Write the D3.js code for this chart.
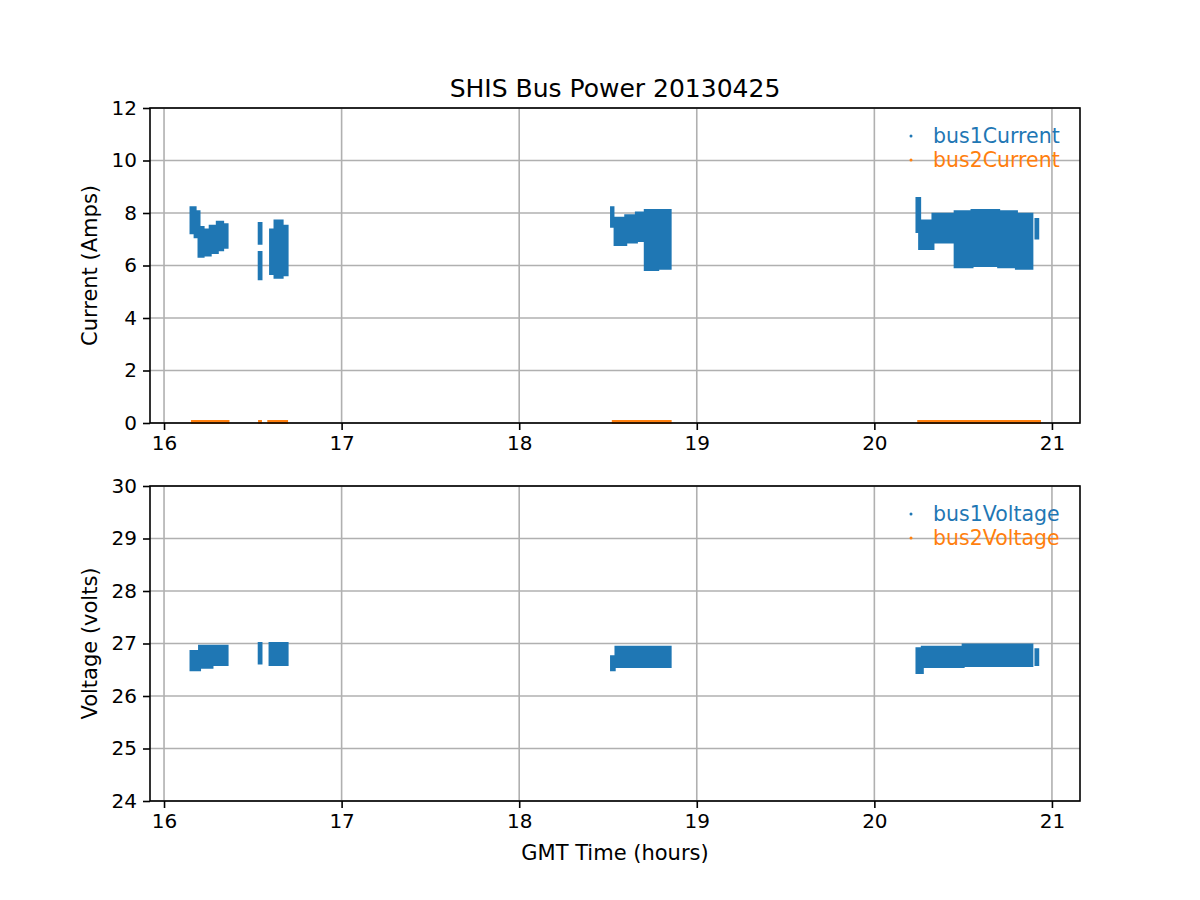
<!DOCTYPE html>
<html>
<head>
<meta charset="utf-8">
<script src="https://cdn.jsdelivr.net/npm/d3@7"></script>
<style>
  html, body { margin: 0; padding: 0; background: #fff; }
  svg { display: block; font-family: "DejaVu Sans", sans-serif; }
</style>
</head>
<body>
<svg id="chart" width="1200" height="900"></svg>
<script>
// ---- Data ----
// Each block: [timeStart (h), timeEnd (h), lowValue, highValue] — envelope of the dense point cloud
const bus1Current = [
  [16.152, 16.175, 7.25, 8.2], [16.175, 16.197, 7.1, 8.05],
  [16.197, 16.22, 6.35, 7.45], [16.22, 16.26, 6.4, 7.35],
  [16.26, 16.30, 6.5, 7.5], [16.30, 16.33, 6.6, 7.65], [16.33, 16.355, 6.7, 7.55],
  [16.536, 16.546, 6.85, 7.6], [16.536, 16.546, 5.5, 6.5],
  [16.60, 16.625, 5.7, 7.35], [16.625, 16.665, 5.55, 7.7], [16.665, 16.693, 5.65, 7.5],
  [18.52, 18.528, 7.5, 8.2],
  [18.54, 18.60, 6.8, 7.8], [18.60, 18.66, 6.9, 7.9], [18.66, 18.71, 6.95, 8.0],
  [18.71, 18.78, 5.85, 8.1], [18.78, 18.85, 5.9, 8.1],
  [20.24, 20.255, 7.3, 8.55], [20.255, 20.33, 6.65, 7.7],
  [20.33, 20.40, 6.9, 7.95], [20.40, 20.455, 6.9, 7.95],
  [20.455, 20.55, 5.95, 8.05], [20.55, 20.70, 6.0, 8.1],
  [20.70, 20.80, 5.95, 8.05], [20.80, 20.887, 5.9, 7.95],
  [20.91, 20.92, 7.05, 7.75]
];
const bus2Current = [
  [16.16, 16.36, 0.02, 0.06], [16.538, 16.543, 0.02, 0.06], [16.59, 16.69, 0.02, 0.06],
  [18.53, 18.85, 0.02, 0.06], [20.25, 20.93, 0.02, 0.06]
];
const bus1Voltage = [
  [16.152, 16.20, 26.5, 26.85], [16.20, 16.27, 26.55, 26.95], [16.27, 16.355, 26.6, 26.95],
  [16.536, 16.546, 26.63, 27.0], [16.597, 16.693, 26.6, 27.0],
  [18.52, 18.535, 26.5, 26.75], [18.545, 18.85, 26.56, 26.93],
  [20.24, 20.27, 26.45, 26.9], [20.27, 20.50, 26.56, 26.93],
  [20.50, 20.887, 26.58, 26.97], [20.91, 20.92, 26.6, 26.88]
];
const bus2Voltage = []; // no visible points within the plotted range

const xTicks = [16, 17, 18, 19, 20, 21];
const currentTicks = [0, 2, 4, 6, 8, 10, 12];
const voltageTicks = [24, 25, 26, 27, 28, 29, 30];
const xDomain = [15.921, 21.158];
const currentDomain = [0, 12];
const voltageDomain = [24, 30];

const title = "SHIS Bus Power 20130425";
const xLabel = "GMT Time (hours)";
const currentLabel = "Current (Amps)";
const voltageLabel = "Voltage (volts)";

// ---- Drawing ----
const C1 = "#1f77b4", C2 = "#ff7f0e";
const svg = d3.select("#chart");
const L = 150, R = 1080;
const FS = 20, LFS = 21, LEGFS = 20.5;
const x = d3.scaleLinear().domain(xDomain).range([L, R]);

function panel(top, bottom, yDomain, yTicks, yLabel, series) {
  const y = d3.scaleLinear().domain(yDomain).range([bottom, top]);
  const g = svg.append("g");
  // grid
  g.append("g").selectAll("line").data(xTicks).join("line")
    .attr("x1", d => x(d)).attr("x2", d => x(d)).attr("y1", top).attr("y2", bottom)
    .attr("stroke", "#b0b0b0").attr("stroke-width", 1.6);
  g.append("g").selectAll("line").data(yTicks).join("line")
    .attr("x1", L).attr("x2", R).attr("y1", d => y(d)).attr("y2", d => y(d))
    .attr("stroke", "#b0b0b0").attr("stroke-width", 1.6);

  // data blocks (dense point clouds) drawn as one path per series to avoid seams
  const pad = 1.5;
  series.forEach(s => {
    const p = d3.path();
    s.data.forEach(d => {
      p.rect(x(d[0]) - pad, y(d[3]) - pad,
             Math.max(x(d[1]) - x(d[0]), 0) + 2 * pad,
             y(d[2]) - y(d[3]) + 2 * pad);
    });
    g.append("path").attr("d", p.toString() || null).attr("fill", s.color).attr("fill-rule", "nonzero");
  });

  // axes
  const xAxis = d3.axisBottom(x).tickValues(xTicks).tickFormat(d3.format("d")).tickSizeInner(7).tickSizeOuter(0).tickPadding(6);
  const yAxis = d3.axisLeft(y).tickValues(yTicks).tickFormat(d3.format("d")).tickSizeInner(7).tickSizeOuter(0).tickPadding(6);
  const gx = g.append("g").attr("transform", `translate(0,${bottom})`).call(xAxis);
  const gy = g.append("g").attr("transform", `translate(${L},0)`).call(yAxis);
  [gx, gy].forEach(a => {
    a.select(".domain").remove();
    a.selectAll("line").attr("stroke", "#000").attr("stroke-width", 1.6);
    a.selectAll("text").attr("fill", "#000").style("font-size", FS + "px").style("font-family", "DejaVu Sans");
  });
  g.append("rect").attr("x", L).attr("y", top).attr("width", R - L).attr("height", bottom - top)
    .attr("fill", "none").attr("stroke", "#000").attr("stroke-width", 1.6);

  // y label
  g.append("text")
    .attr("transform", `translate(90,${(top + bottom) / 2}) rotate(-90)`)
    .attr("text-anchor", "middle").attr("dy", "0.35em").attr("font-size", LFS).text(yLabel);

  // legend (no frame, coloured text)
  series.forEach((s, i) => {
    const ly = top + 28 + i * 24;
    g.append("circle").attr("cx", 911).attr("cy", ly).attr("r", 1.5).attr("fill", s.color);
    g.append("text").attr("x", 933).attr("y", ly).attr("dy", "0.35em")
      .attr("fill", s.color).attr("font-size", LEGFS).text(s.name);
  });
  return y;
}

panel(108, 423, currentDomain, currentTicks, currentLabel, [
  { data: bus1Current, color: C1, name: "bus1Current" },
  { data: bus2Current, color: C2, name: "bus2Current" }
]);
panel(486, 801, voltageDomain, voltageTicks, voltageLabel, [
  { data: bus1Voltage, color: C1, name: "bus1Voltage" },
  { data: bus2Voltage, color: C2, name: "bus2Voltage" }
]);

svg.append("text").attr("x", 615).attr("y", 88).attr("dy", "0.35em")
  .attr("text-anchor", "middle").attr("font-size", 25).text(title);
svg.append("text").attr("x", 615).attr("y", 853).attr("dy", "0.35em")
  .attr("text-anchor", "middle").attr("font-size", LFS).text(xLabel);
</script>
</body>
</html>
